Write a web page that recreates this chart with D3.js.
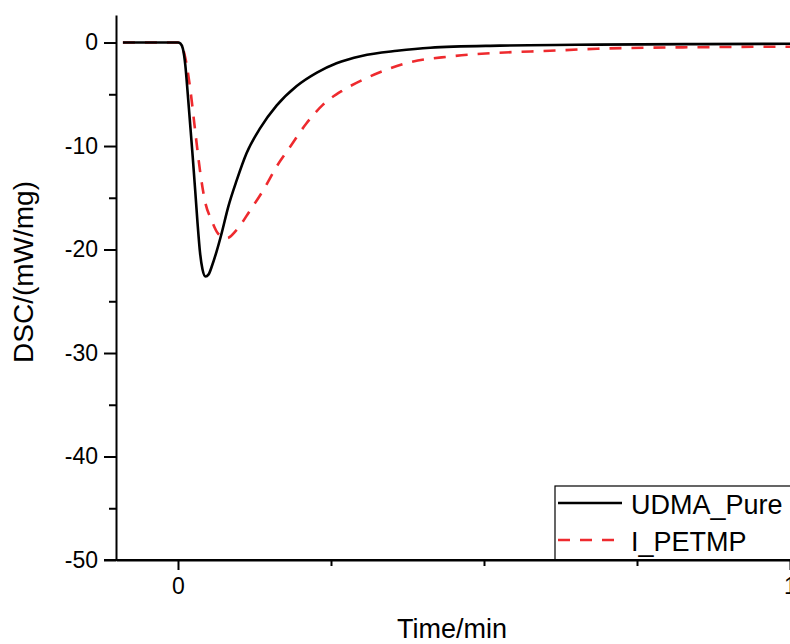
<!DOCTYPE html>
<html>
<head>
<meta charset="utf-8">
<script src="https://cdn.jsdelivr.net/npm/d3@7"></script>
<style>
  html, body { margin: 0; padding: 0; background: #fff; }
  svg { display: block; font-family: "Liberation Sans", Arial, sans-serif; }
</style>
</head>
<body>
<svg id="chart" width="790" height="644"></svg>
<script>
// Datos (DSC frente a tiempo)
const timeUdma = [-0.09, -0.02, 0.0, 0.004, 0.008, 0.012, 0.016, 0.02, 0.024, 0.028, 0.032, 0.036, 0.040, 0.045, 0.050, 0.056, 0.063, 0.071, 0.082, 0.096, 0.112, 0.134, 0.161, 0.194, 0.227, 0.259, 0.30, 0.358, 0.412, 0.526, 0.685, 0.85, 1.02];
const dscUdma = [0, 0, 0, -0.1, -0.6, -2.2, -5.0, -8.0, -11.0, -14.2, -17.5, -20.3, -21.9, -22.6, -22.4, -21.5, -20.2, -18.5, -15.9, -13.3, -10.7, -8.3, -6.1, -4.2, -2.9, -2.0, -1.3, -0.8, -0.5, -0.3, -0.2, -0.15, -0.12];

const timePetmp = [-0.09, -0.02, 0.0, 0.006, 0.012, 0.0196, 0.028, 0.036, 0.044, 0.055, 0.066, 0.08, 0.096, 0.118, 0.139, 0.161, 0.183, 0.21, 0.237, 0.27, 0.302, 0.335, 0.379, 0.444, 0.521, 0.608, 0.685, 0.853, 1.02];
const dscPetmp = [0, 0, 0, -0.3, -1.5, -4.3, -8.5, -12.4, -15.3, -17.2, -18.5, -18.9, -18.1, -16.2, -14.3, -12.0, -10.1, -7.8, -6.0, -4.6, -3.6, -2.75, -1.9, -1.35, -1.0, -0.8, -0.6, -0.45, -0.4];

const seriesNames = ['UDMA_Pure', 'I_PETMP'];
const xMajorTicks = [0, 1];
const xMinorTicks = [0.25, 0.5, 0.75];
const yMajorTicks = [0, -10, -20, -30, -40, -50];
const yMinorTicks = [-5, -15, -25, -35, -45];

const svg = d3.select('#chart');

const x = d3.scaleLinear().domain([-0.1013, 1]).range([116, 790]);
const y = d3.scaleLinear().domain([-50, 2.66]).range([560, 15]);

// Ejes (guion normal en los negativos, como en la figura)
const plainFormat = d => String(d);

const yAxis = svg.append('g').attr('transform', 'translate(116,0)')
  .call(d3.axisLeft(y).tickValues(yMajorTicks).tickSize(12).tickSizeOuter(0).tickPadding(6).tickFormat(plainFormat));
svg.append('g').attr('transform', 'translate(116,0)')
  .call(d3.axisLeft(y).tickValues(yMinorTicks).tickSize(7).tickFormat('').tickSizeOuter(0))
  .select('.domain').remove();

const xAxis = svg.append('g').attr('transform', 'translate(0,560)')
  .call(d3.axisBottom(x).tickValues(xMajorTicks).tickSize(10).tickSizeOuter(0).tickPadding(8).tickFormat(plainFormat));
svg.append('g').attr('transform', 'translate(0,560)')
  .call(d3.axisBottom(x).tickValues(xMinorTicks).tickSize(6).tickFormat('').tickSizeOuter(0))
  .select('.domain').remove();

svg.selectAll('.domain, .tick line').attr('stroke', '#000').attr('stroke-width', 2);
yAxis.selectAll('.tick text').attr('font-size', 23).attr('fill', '#000');
xAxis.selectAll('.tick text').attr('font-size', 23).attr('fill', '#000');
svg.selectAll('g').attr('font-family', null);

// Títulos de los ejes
svg.append('text')
  .attr('x', 452).attr('y', 638)
  .attr('text-anchor', 'middle')
  .attr('font-size', 27)
  .text('Time/min');

svg.append('text')
  .attr('transform', 'translate(33,272) rotate(-90)')
  .attr('text-anchor', 'middle')
  .attr('font-size', 28)
  .text('DSC/(mW/mg)');

// Curvas
const line = d3.line()
  .x(d => x(d[0]))
  .y(d => y(d[1]))
  .curve(d3.curveMonotoneX);

const udmaPoints = timeUdma.map((t, i) => [t, dscUdma[i]]);
const petmpPoints = timePetmp.map((t, i) => [t, dscPetmp[i]]);

svg.append('path')
  .datum(petmpPoints)
  .attr('d', line)
  .attr('fill', 'none')
  .attr('stroke', '#ee2a2e')
  .attr('stroke-width', 2.6)
  .attr('stroke-dasharray', '12,10');

svg.append('path')
  .datum(udmaPoints)
  .attr('d', line)
  .attr('fill', 'none')
  .attr('stroke', '#000')
  .attr('stroke-width', 2.6);

// Leyenda
const legend = svg.append('g');
legend.append('rect')
  .attr('x', 555).attr('y', 486)
  .attr('width', 300).attr('height', 74)
  .attr('fill', '#fff')
  .attr('stroke', '#000')
  .attr('stroke-width', 1.2);

const legendStyles = [
  { color: '#000', dash: null, y: 503 },
  { color: '#ee2a2e', dash: '12,10', y: 540 }
];

seriesNames.forEach((name, i) => {
  const s = legendStyles[i];
  legend.append('line')
    .attr('x1', 558).attr('x2', 622)
    .attr('y1', s.y).attr('y2', s.y)
    .attr('stroke', s.color)
    .attr('stroke-width', 2.6)
    .attr('stroke-dasharray', s.dash);
  legend.append('text')
    .attr('x', 631).attr('y', s.y + 11)
    .attr('font-size', 27)
    .text(name);
});

// La línea del eje x se redibuja por encima del borde de la leyenda
svg.append('line')
  .attr('x1', 104).attr('x2', 790)
  .attr('y1', 560).attr('y2', 560)
  .attr('stroke', '#000')
  .attr('stroke-width', 2);
</script>
</body>
</html>
